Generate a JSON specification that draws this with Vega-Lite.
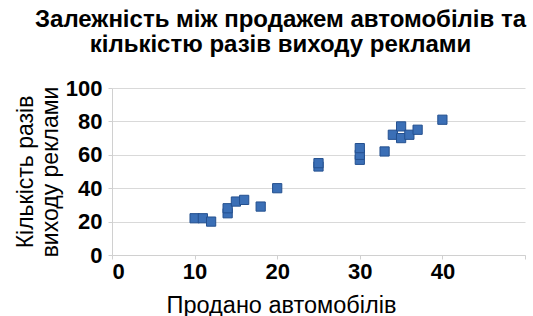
{
  "$schema": "https://vega.github.io/schema/vega-lite/v6.json",
  "autosize": "none",
  "width": 413,
  "height": 167,
  "padding": {"left": 112, "top": 88, "right": 8, "bottom": 61},
  "background": "white",
  "title": {
    "text": ["Залежність між продажем автомобілів та", "кількістю разів виходу реклами"],
    "font": "Liberation Sans",
    "fontSize": 24,
    "fontWeight": "bold",
    "color": "#000000",
    "anchor": "middle",
    "frame": "group",
    "dx": -38,
    "offset": 20,
    "lineHeight": 25
  },
  "data": {
    "values": [
      {"x": 10, "y": 22},
      {"x": 11, "y": 22},
      {"x": 12, "y": 20},
      {"x": 14, "y": 25},
      {"x": 14, "y": 28},
      {"x": 15, "y": 32},
      {"x": 16, "y": 33},
      {"x": 18, "y": 29},
      {"x": 20, "y": 40},
      {"x": 25, "y": 53},
      {"x": 25, "y": 55},
      {"x": 30, "y": 57},
      {"x": 30, "y": 60},
      {"x": 30, "y": 64},
      {"x": 33, "y": 62},
      {"x": 34, "y": 72},
      {"x": 35, "y": 70},
      {"x": 35, "y": 77},
      {"x": 36, "y": 72},
      {"x": 37, "y": 75},
      {"x": 40, "y": 81}
    ]
  },
  "mark": {"type": "point", "shape": "square", "filled": true, "size": 85, "color": "#3b6fb6", "stroke": "#24508f", "strokeWidth": 1, "opacity": 1},
  "encoding": {
    "x": {
      "field": "x", "type": "quantitative",
      "scale": {"domain": [0, 50], "nice": false, "zero": true},
      "axis": {
        "values": [0, 10, 20, 30, 40, 50],
        "labelExpr": "datum.value == 50 ? '' : datum.label",
        "grid": false,
        "title": "Продано автомобілів",
        "titleFont": "Liberation Sans",
        "titleFontSize": 23.5,
        "titleFontWeight": "normal",
        "titleColor": "#000000",
        "titleX": 169,
        "titleY": 57,
        "titleAlign": "center",
        "titleBaseline": "alphabetic",
        "labelFont": "Liberation Sans",
        "labelFontSize": 22,
        "labelFontWeight": "bold",
        "labelColor": "#000000",
        "labelPadding": 2,
        "domainColor": "#d0d0d0",
        "tickColor": "#d0d0d0",
        "tickSize": 4
      }
    },
    "y": {
      "field": "y", "type": "quantitative",
      "scale": {"domain": [0, 100], "nice": false},
      "axis": {
        "values": [0, 20, 40, 60, 80, 100],
        "grid": true,
        "gridColor": "#d9d9d9",
        "title": ["Кількість разів", "виходу реклами"],
        "titleFont": "Liberation Sans",
        "titleFontSize": 23,
        "titleFontWeight": "normal",
        "titleColor": "#000000",
        "titlePadding": 3,
        "titleLineHeight": 25,
        "labelFont": "Liberation Sans",
        "labelFontSize": 22,
        "labelFontWeight": "bold",
        "labelColor": "#000000",
        "labelPadding": 6,
        "domainColor": "#d0d0d0",
        "tickColor": "#d0d0d0",
        "tickSize": 4
      }
    }
  },
  "config": {"view": {"stroke": null}}
}
